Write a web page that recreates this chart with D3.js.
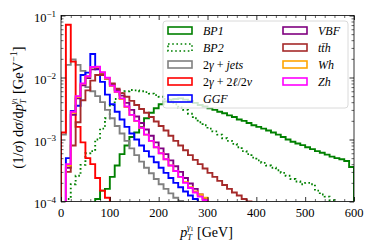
<!DOCTYPE html>
<html>
<head>
<meta charset="utf-8">
<script src="https://cdn.jsdelivr.net/npm/d3@7"></script>
<style>
  body { margin: 0; background: #fff; }
  svg { display: block; }
  text { font-family: "Liberation Serif", "DejaVu Serif", serif; fill: #000; }
</style>
</head>
<body>
<div id="chart-area"></div>
<script>

// histogram bins: 10 GeV wide, 0 - 600 GeV
const binWidth = 10;
const binStarts = d3.range(0, 600, binWidth);

// normalised distributions, one value per bin (0 = empty bin)
const bp1 = [0, 0, 0, 0, 0, 0, 0, 1.1e-4, 1.5e-4, 1.6e-4,
  2.5e-4, 3.8e-4, 5.8e-4, 8e-4, 1.1e-3, 1.3e-3, 1.6e-3, 2.2e-3, 2.7e-3, 3.2e-3,
  3.7e-3, 4.1e-3, 4.4e-3, 4.5e-3, 4.6e-3, 4.4e-3, 4.2e-3, 3.9e-3, 3.6e-3, 3.4e-3,
  3.2e-3, 3.0e-3, 2.8e-3, 2.65e-3, 2.45e-3, 2.3e-3, 2.1e-3, 2.0e-3, 1.85e-3, 1.7e-3,
  1.6e-3, 1.5e-3, 1.4e-3, 1.3e-3, 1.2e-3, 1.1e-3, 1.0e-3, 9.2e-4, 8.6e-4, 8.1e-4,
  7.5e-4, 7e-4, 6.5e-4, 6.1e-4, 5.7e-4, 5.3e-4, 5e-4, 4.8e-4, 4.5e-4, 3.6e-4];

const bp2 = [0, 1.1e-4, 1.9e-4, 2.6e-4, 3.9e-4, 6e-4, 6.5e-4, 1e-3, 1.5e-3, 2.2e-3,
  3.6e-3, 4.5e-3, 5.6e-3, 6e-3, 6.3e-3, 6.2e-3, 6e-3, 5.8e-3, 5.5e-3, 5.2e-3,
  4.9e-3, 4.5e-3, 4.2e-3, 3.7e-3, 3.3e-3, 3e-3, 2.6e-3, 2.2e-3, 1.9e-3, 1.7e-3,
  1.5e-3, 1.35e-3, 1.2e-3, 1.05e-3, 9.5e-4, 8.5e-4, 7.5e-4, 6.5e-4, 5.8e-4, 5.1e-4,
  4.6e-4, 4.2e-4, 3.8e-4, 3.5e-4, 3.2e-4, 2.9e-4, 2.6e-4, 2.3e-4, 2.1e-4, 1.9e-4,
  2.0e-4, 1.9e-4, 1.5e-4, 1.3e-4, 1.2e-4, 1.05e-4, 0, 0, 0, 0];

const jets = [1.2e-3, 0.016, 0.0195, 0.016, 0.0128, 7e-3, 6e-3, 5e-3, 4e-3, 3e-3,
  2.2e-3, 1.65e-3, 1.25e-3, 9.5e-4, 7.2e-4, 5.6e-4, 4.4e-4, 3.5e-4, 2.85e-4, 2.3e-4,
  1.9e-4, 1.6e-4, 1.35e-4, 1.15e-4, 1.02e-4, 0, 0, 0, 0, 0,
  0, 0, 0, 0, 0, 0, 0, 0, 0, 0,
  0, 0, 0, 0, 0, 0, 0, 0, 0, 0,
  0, 0, 0, 0, 0, 0, 0, 0, 0, 0];

const leptons = [1.3e-3, 0.071, 0.018, 1.6e-3, 9e-4, 5e-4, 4e-4, 2.4e-4, 1.5e-4, 1.15e-4,
  0, 0, 0, 0, 0, 0, 0, 0, 0, 0,
  0, 0, 0, 0, 0, 0, 0, 0, 0, 0,
  0, 0, 0, 0, 0, 0, 0, 0, 0, 0,
  0, 0, 0, 0, 0, 0, 0, 0, 0, 0,
  0, 0, 0, 0, 0, 0, 0, 0, 0, 0];

const ggf = [0, 5e-4, 2.9e-3, 3.5e-3, 0.011, 0.012, 0.024, 0.0135, 8.5e-3, 5.3e-3,
  3.7e-3, 2.8e-3, 2.1e-3, 1.6e-3, 1.25e-3, 1.0e-3, 8e-4, 6.5e-4, 5.3e-4, 4.3e-4,
  3.5e-4, 2.9e-4, 2.4e-4, 2e-4, 1.7e-4, 1.45e-4, 1.25e-4, 1.1e-4, 0, 0,
  0, 0, 0, 0, 0, 0, 0, 0, 0, 0,
  0, 0, 0, 0, 0, 0, 0, 0, 0, 0,
  0, 0, 0, 0, 0, 0, 0, 0, 0, 0];

const vbf = [0, 3.5e-4, 2.5e-3, 4.6e-3, 7.5e-3, 9.8e-3, 0.0135, 0.014, 0.0118, 9.8e-3,
  7.8e-3, 6.3e-3, 5.1e-3, 3.9e-3, 3.0e-3, 2.35e-3, 1.85e-3, 1.45e-3, 1.15e-3, 9e-4,
  7.2e-4, 5.8e-4, 4.6e-4, 3.7e-4, 3e-4, 2.4e-4, 1.95e-4, 1.6e-4, 1.3e-4, 1.1e-4,
  0, 0, 0, 0, 0, 0, 0, 0, 0, 0,
  0, 0, 0, 0, 0, 0, 0, 0, 0, 0,
  0, 0, 0, 0, 0, 0, 0, 0, 0, 0];

const tth = [0, 3e-4, 8e-4, 1.9e-3, 4.3e-3, 6.2e-3, 8.9e-3, 0.011, 0.011, 9.5e-3,
  8e-3, 6.6e-3, 5.6e-3, 4.9e-3, 4.2e-3, 3.6e-3, 3.1e-3, 2.7e-3, 2.3e-3, 1.95e-3,
  1.65e-3, 1.4e-3, 1.15e-3, 9.5e-4, 8e-4, 6.7e-4, 5.6e-4, 4.7e-4, 4e-4, 3.4e-4,
  2.9e-4, 2.5e-4, 2.15e-4, 1.85e-4, 1.6e-4, 1.4e-4, 1.25e-4, 1.1e-4, 1.0e-4, 0,
  0, 0, 0, 0, 0, 0, 0, 0, 0, 0,
  0, 0, 0, 0, 0, 0, 0, 0, 0, 0];

const wh = [0, 3.8e-4, 2.7e-3, 4.9e-3, 7.9e-3, 0.0104, 0.0146, 0.0148, 0.012, 9.7e-3,
  7.3e-3, 5.8e-3, 4.5e-3, 3.35e-3, 2.5e-3, 1.98e-3, 1.55e-3, 1.2e-3, 9.5e-4, 7.5e-4,
  6e-4, 4.8e-4, 3.8e-4, 3.1e-4, 2.5e-4, 2.05e-4, 1.7e-4, 1.45e-4, 1.3e-4, 1.15e-4,
  0, 0, 0, 0, 0, 0, 0, 0, 0, 0,
  0, 0, 0, 0, 0, 0, 0, 0, 0, 0,
  0, 0, 0, 0, 0, 0, 0, 0, 0, 0];

const zh = [0, 4e-4, 2.8e-3, 5e-3, 8e-3, 0.0105, 0.0148, 0.015, 0.0122, 9.9e-3,
  7.4e-3, 5.9e-3, 4.6e-3, 3.4e-3, 2.5e-3, 2.0e-3, 1.55e-3, 1.2e-3, 9.5e-4, 7.5e-4,
  6e-4, 4.8e-4, 3.8e-4, 3.1e-4, 2.5e-4, 2.0e-4, 1.65e-4, 1.4e-4, 1.2e-4, 1.05e-4,
  0, 0, 0, 0, 0, 0, 0, 0, 0, 0,
  0, 0, 0, 0, 0, 0, 0, 0, 0, 0,
  0, 0, 0, 0, 0, 0, 0, 0, 0, 0];

// legend labels: [text, italic?] pieces
const series = [
  { values: bp1, color: 'green', dash: null, label: [['BP1', true]] },
  { values: bp2, color: 'green', dash: '1.6,2.6', label: [['BP2', true]] },
  { values: jets, color: 'gray', dash: null, label: [['2', false], ['γ', true], [' + ', false], ['jets', true]] },
  { values: leptons, color: 'red', dash: null, label: [['2', false], ['γ', true], [' + 2', false], ['ℓ', true], ['/2', false], ['ν', true]] },
  { values: ggf, color: 'blue', dash: null, label: [['GGF', true]] },
  { values: vbf, color: 'purple', dash: null, label: [['VBF', true]] },
  { values: tth, color: 'brown', dash: null, label: [['tt\u0304h', true]] },
  { values: wh, color: 'orange', dash: null, label: [['Wh', true]] },
  { values: zh, color: 'magenta', dash: null, label: [['Zh', true]] },
];

const widthSvg = 374;
const heightSvg = 249;
const margin = { top: 15.5, right: 20, bottom: 47.5, left: 61 };
const widthChart = widthSvg - margin.left - margin.right;
const heightChart = heightSvg - margin.top - margin.bottom;

const scaleX = d3.scaleLinear().domain([0, 600]).range([0, widthChart]);
const scaleY = d3.scaleLog().domain([1e-4, 1e-1]).range([heightChart, 0]);

const svg = d3.select('#chart-area').append('svg')
  .attr('width', widthSvg)
  .attr('height', heightSvg);

svg.append('defs').append('clipPath').attr('id', 'clip')
  .append('rect').attr('width', widthChart).attr('height', heightChart);

const chart = svg.append('g')
  .attr('transform', `translate(${margin.left}, ${margin.top})`);

// step histograms
const yOf = v => v > 0 ? scaleY(v) : heightChart + 20;
const line = d3.line();

const plotArea = chart.append('g').attr('clip-path', 'url(#clip)');
series.forEach(s => {
  const pts = [[scaleX(0), heightChart + 20]];
  s.values.forEach((v, i) => {
    pts.push([scaleX(binStarts[i]), yOf(v)]);
    pts.push([scaleX(binStarts[i] + binWidth), yOf(v)]);
  });
  pts.push([scaleX(600), heightChart + 20]);
  plotArea.append('path')
    .attr('d', line(pts))
    .attr('fill', 'none')
    .attr('stroke', s.color)
    .attr('stroke-width', 1.9)
    .attr('stroke-linejoin', 'miter')
    .attr('stroke-dasharray', s.dash);
});

// axes, ticks pointing inwards on all four sides
const xMinor = d3.range(0, 601, 20).filter(v => v % 100 !== 0);
const yMinor = [];
[1e-4, 1e-3, 1e-2].forEach(d => d3.range(2, 10).forEach(m => yMinor.push(m * d)));
const yMajor = [1e-4, 1e-3, 1e-2, 1e-1];

const axes = [
  [d3.axisBottom, `translate(0, ${heightChart})`, scaleX],
  [d3.axisTop, 'translate(0, 0)', scaleX],
  [d3.axisLeft, 'translate(0, 0)', scaleY],
  [d3.axisRight, `translate(${widthChart}, 0)`, scaleY],
];

axes.forEach(([makeAxis, tr, scale], k) => {
  const isX = k < 2;
  chart.append('g').attr('transform', tr)
    .call(makeAxis(scale).tickValues(isX ? [0, 100, 200, 300, 400, 500, 600] : yMajor)
      .tickSizeInner(-4.5).tickSizeOuter(0).tickFormat(''))
    .call(g => g.select('.domain').remove())
    .call(g => g.selectAll('line').attr('stroke-width', 0.8));
  chart.append('g').attr('transform', tr)
    .call(makeAxis(scale).tickValues(isX ? xMinor : yMinor)
      .tickSizeInner(-2.5).tickSizeOuter(0).tickFormat(''))
    .call(g => g.select('.domain').remove())
    .call(g => g.selectAll('line').attr('stroke-width', 0.6));
});

chart.append('rect')
  .attr('width', widthChart)
  .attr('height', heightChart)
  .attr('fill', 'none')
  .attr('stroke', '#000')
  .attr('stroke-width', 0.8);

// tick labels
chart.selectAll('.xlab').data([0, 100, 200, 300, 400, 500, 600]).enter()
  .append('text')
    .attr('x', d => scaleX(d))
    .attr('y', heightChart + 15.5)
    .attr('text-anchor', 'middle')
    .attr('font-size', '12.5px')
    .text(d => d);

const yLabels = chart.selectAll('.ylab').data(yMajor).enter()
  .append('text')
    .attr('x', -5)
    .attr('y', d => scaleY(d) + 6)
    .attr('text-anchor', 'end')
    .attr('font-size', '12.5px');
yLabels.append('tspan').text('10');
yLabels.append('tspan')
  .attr('dy', -5)
  .attr('font-size', '9px')
  .text(d => '\u2212' + Math.round(-Math.log10(d)));

// p_T^{gamma1}: subscript and superscript stacked
const ptSymbol = (sel) => {
  sel.append('tspan').attr('font-style', 'italic').text('p');
  sel.append('tspan').attr('font-style', 'italic').attr('font-size', '8.5px').attr('dy', 3.5).text('T');
  sel.append('tspan').attr('font-style', 'italic').attr('font-size', '8.5px').attr('dx', -5).attr('dy', -10.5).text('γ');
  sel.append('tspan').attr('font-size', '6.5px').attr('dy', 1.5).text('1');
  sel.append('tspan').attr('dy', 5.5).text(' ');
};

// axis titles
const labelX = chart.append('text')
  .attr('transform', `translate(${widthChart / 2 - 1}, ${heightChart + 35})`)
  .attr('text-anchor', 'middle')
  .attr('font-size', '14px');
ptSymbol(labelX);
labelX.append('tspan').text('[GeV]');

const labelY = chart.append('text')
  .attr('transform', `translate(-38.5, ${heightChart / 2 - 1}) rotate(-90)`)
  .attr('text-anchor', 'middle')
  .attr('font-size', '14.5px');
labelY.append('tspan').text('(1/');
labelY.append('tspan').attr('font-style', 'italic').text('σ');
labelY.append('tspan').text(') d');
labelY.append('tspan').attr('font-style', 'italic').text('σ');
labelY.append('tspan').text('/d');
ptSymbol(labelY);
labelY.append('tspan').text('[GeV');
labelY.append('tspan').attr('font-size', '10px').attr('dy', -5.5).text('\u22121');
labelY.append('tspan').attr('dy', 5.5).text(']');

// legend
const legend = svg.append('g').attr('transform', 'translate(163, 21)');
legend.append('rect')
  .attr('width', 185)
  .attr('height', 87)
  .attr('rx', 3)
  .attr('fill', '#fff')
  .attr('fill-opacity', 0.8)
  .attr('stroke', '#d0d0d0')
  .attr('stroke-width', 0.8);

series.forEach((s, i) => {
  const col = i < 5 ? 0 : 1;
  const row = i < 5 ? i : i - 5;
  const gx = col === 0 ? 5 : 120;
  const gy = 9.5 + row * 17;
  const item = legend.append('g').attr('transform', `translate(${gx}, ${gy})`);
  item.append('rect')
    .attr('x', 0).attr('y', -3.5)
    .attr('width', 24).attr('height', 7)
    .attr('fill', 'none')
    .attr('stroke', s.color)
    .attr('stroke-width', 1.6)
    .attr('stroke-dasharray', s.dash);
  const t = item.append('text')
    .attr('x', 35)
    .attr('y', 4)
    .attr('font-size', '12px')
    .attr('fill', '#222');
  s.label.forEach(([txt, it]) => {
    t.append('tspan').attr('font-style', it ? 'italic' : 'normal').text(txt);
  });
});

</script>
</body>
</html>
